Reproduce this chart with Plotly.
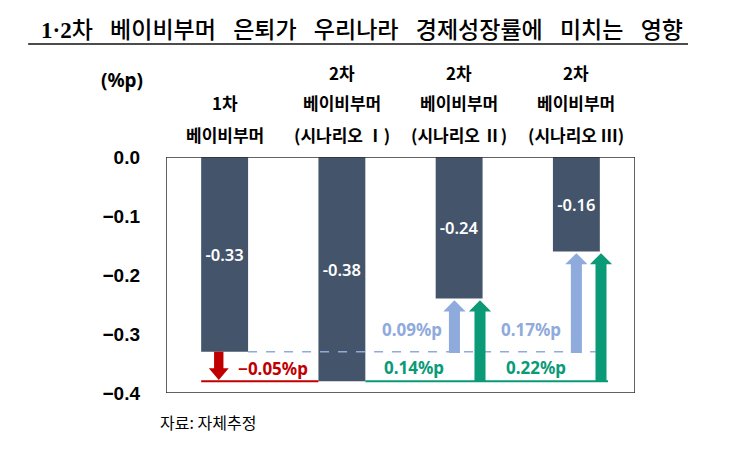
import plotly.graph_objects as go

# ---------------- data ----------------
categories = [
    "1차<br>베이비부머",
    "2차<br>베이비부머<br>(시나리오 Ⅰ)",
    "2차<br>베이비부머<br>(시나리오 Ⅱ)",
    "2차<br>베이비부머<br>(시나리오 Ⅲ)",
]
growth_effect = [-0.33, -0.38, -0.24, -0.16]          # %p
diff_2nd_vs_1st = [-0.05]                              # scenario I vs 1st
gain_vs_1st = [0.09, 0.17]                             # scenario II, III vs 1st
gain_vs_scen1 = [0.14, 0.22]                           # scenario II, III vs scenario I
y_ticks = [0.0, -0.1, -0.2, -0.3, -0.4]

GAP = "\u2002\u2005"
title_words = ["<b>1·2</b>차", "베이비부머", "은퇴가", "우리나라", "경제성장률에", "미치는", "영향"]
unit_text = "(%p)"
source_text = "자료: 자체추정"

# ---------------- style ----------------
BAR = "#44546A"
RED = "#C00000"
LBLUE = "#8FAADC"
GREEN = "#0A9A78"
KR = "Noto Sans CJK KR"
NUM = "Noto Sans, Noto Sans CJK KR"

x = list(range(len(categories)))
fig = go.Figure()
fig.add_trace(go.Bar(
    x=x, y=growth_effect, width=0.4,
    marker=dict(color=BAR, line=dict(width=0)),
    text=[f"{v:.2f}" for v in growth_effect],
    textposition="inside", insidetextanchor="middle",
    textfont=dict(color="white", size=16.5, family=NUM, weight=600),
    constraintext="none", hoverinfo="skip",
))

shapes = []
annotations = []

# frame
shapes.append(dict(type="rect", xref="x", yref="y", x0=-0.5, x1=3.5, y0=y_ticks[-1], y1=y_ticks[0],
                   line=dict(color="#303030", width=1.5), fillcolor="rgba(0,0,0,0)", layer="above"))

base1 = growth_effect[0]
base2 = growth_effect[1]

def up_arrow(xc, y0, y1, sw=0.094, hw=0.19, hh=0.0187):
    yh = y1 - hh
    return (f"M {xc-sw/2},{y0} L {xc-sw/2},{yh} L {xc-hw/2},{yh} L {xc},{y1} "
            f"L {xc+hw/2},{yh} L {xc+sw/2},{yh} L {xc+sw/2},{y0} Z")

def down_arrow(xc, y0, y1, sw=0.08, hw=0.17, hh=0.02):
    yh = y1 + hh
    return (f"M {xc-sw/2},{y0} L {xc-sw/2},{yh} L {xc-hw/2},{yh} L {xc},{y1} "
            f"L {xc+hw/2},{yh} L {xc+sw/2},{yh} L {xc+sw/2},{y0} Z")

# red baseline under 1st boomer -> scenario I level
shapes.append(dict(type="line", xref="x", yref="y", x0=x[0]-0.2, x1=x[1]-0.2, y0=base2, y1=base2,
                   line=dict(color=RED, width=2)))
# dashed light-blue line at 1st boomer level
shapes.append(dict(type="line", xref="x", yref="y", x0=x[0]+0.2, x1=3.165, y0=base1, y1=base1,
                   line=dict(color=LBLUE, width=1.5, dash="dash")))
# green line at scenario I level
shapes.append(dict(type="line", xref="x", yref="y", x0=x[1]+0.2, x1=3.27, y0=base2, y1=base2,
                   line=dict(color=GREEN, width=2)))

# red down arrow
shapes.append(dict(type="path", xref="x", yref="y",
                   path=down_arrow(x[0]-0.05, base1, base1 + diff_2nd_vs_1st[0] + 0.002),
                   fillcolor=RED, line=dict(width=0)))
annotations.append(dict(x=x[0]+0.41, y=-0.358, xref="x", yref="y", showarrow=False,
                        xanchor="center", yanchor="middle",
                        text=f"<b>{diff_2nd_vs_1st[0]:.2f}%p</b>".replace("-", "−"),
                        font=dict(color=RED, size=17, family=NUM)))

blue_x = [1.96, 3.0]
green_x = [2.178, 3.21]
blue_lab = [(1.595, -0.2917), (2.61, -0.293)]
green_lab = [(1.612, -0.356), (2.652, -0.356)]
for i, k in enumerate([2, 3]):
    top = growth_effect[k] - 0.003
    shapes.append(dict(type="path", xref="x", yref="y",
                       path=up_arrow(blue_x[i], base1 - 0.002, top),
                       fillcolor=LBLUE, line=dict(width=0)))
    shapes.append(dict(type="path", xref="x", yref="y",
                       path=up_arrow(green_x[i], base2, top),
                       fillcolor=GREEN, line=dict(width=0)))
    annotations.append(dict(x=blue_lab[i][0], y=blue_lab[i][1], xref="x", yref="y", showarrow=False,
                            xanchor="center", yanchor="middle",
                            text=f"<b>{gain_vs_1st[i]:.2f}%p</b>",
                            font=dict(color=LBLUE, size=17, family=NUM)))
    annotations.append(dict(x=green_lab[i][0], y=green_lab[i][1], xref="x", yref="y", showarrow=False,
                            xanchor="center", yanchor="middle",
                            text=f"<b>{gain_vs_scen1[i]:.2f}%p</b>",
                            font=dict(color=GREEN, size=17, family=NUM)))

# category labels (above plot), bottom-aligned rows
row_y = [1.097, 1.233, 1.36]
for xi, cat in zip(x, categories):
    lines = cat.split("<br>")[::-1]
    for j, ln in enumerate(lines):
        annotations.append(dict(x=xi, y=row_y[j], xref="x", yref="paper", showarrow=False,
                                text=f"<b>{ln}</b>", xanchor="center", yanchor="middle",
                                font=dict(color="black", size=17, family=KR)))

# unit label
annotations.append(dict(x=-0.094, y=1.326, xref="paper", yref="paper", showarrow=False,
                        xanchor="center", yanchor="middle",
                        text=f"<b>{unit_text}</b>", font=dict(color="black", size=19, family=NUM)))
# title
annotations.append(dict(x=0.418, y=1.538, xref="paper", yref="paper", showarrow=False,
                        xanchor="center", yanchor="middle",
                        text=GAP.join(title_words),
                        font=dict(color="black", size=23, weight=500,
                                  family="Liberation Serif, Noto Sans CJK KR")))
shapes.append(dict(type="line", xref="paper", yref="paper", x0=-0.294, x1=1.113, y0=1.479, y1=1.479,
                   line=dict(color="#111111", width=1.5)))
# source
annotations.append(dict(x=-0.017, y=-0.123, xref="paper", yref="paper", showarrow=False,
                        xanchor="left", yanchor="middle", text=source_text,
                        font=dict(color="black", size=16, family=KR)))

fig.update_layout(
    width=733, height=452,
    margin=dict(l=166, r=98, t=157, b=59),
    plot_bgcolor="white", paper_bgcolor="white",
    showlegend=False,
    shapes=shapes, annotations=annotations,
    xaxis=dict(range=[-0.5, 3.5], showticklabels=False, showgrid=False, zeroline=False,
               showline=False, ticks="", fixedrange=True),
    yaxis=dict(range=[y_ticks[-1], y_ticks[0]], tickvals=y_ticks, tickformat=".1f",
               showgrid=False, zeroline=False, showline=False, ticks="",
               ticklabelstandoff=25,
               tickfont=dict(family="Liberation Sans, Arial", size=19, color="black", weight="bold"),
               fixedrange=True),
)

fig.write_html("out.html")
